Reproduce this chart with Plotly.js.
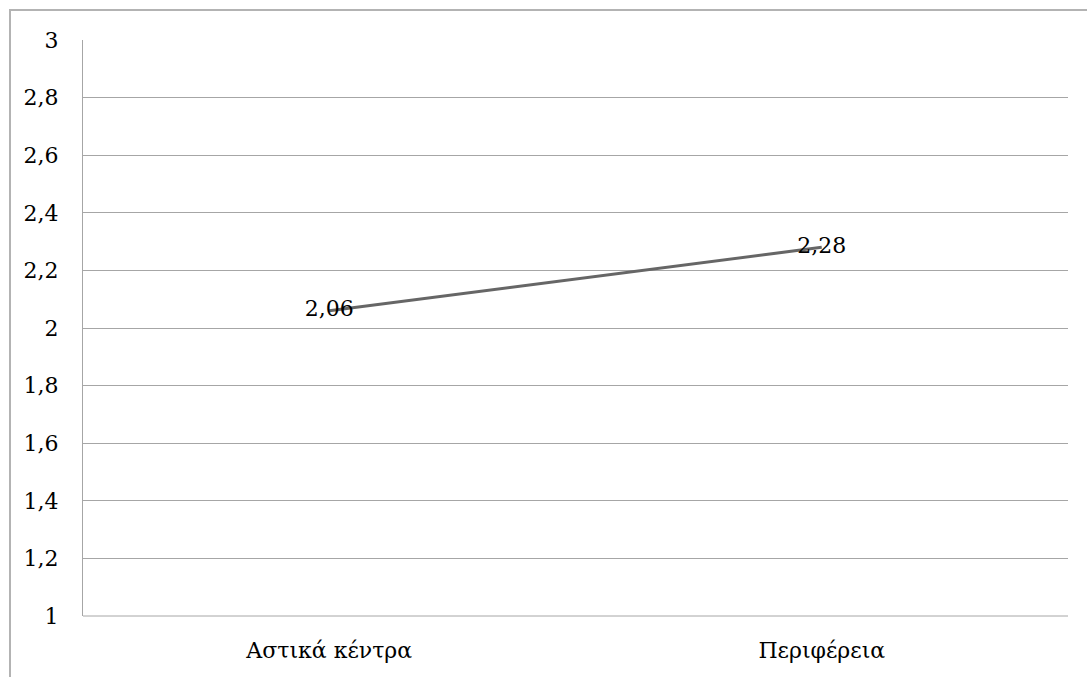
<!DOCTYPE html>
<html>
<head>
<meta charset="utf-8">
<script src="https://cdn.plot.ly/plotly-3.0.1.min.js"></script>
<style>
  html, body { margin: 0; padding: 0; background: #ffffff; }
  #chart { width: 1087px; height: 677px; }
</style>
</head>
<body>
<div id="chart"></div>
<script>
const categories = ["Αστικά κέντρα", "Περιφέρεια"];
const values = [2.06, 2.28];
const yTicks = [1, 1.2, 1.4, 1.6, 1.8, 2, 2.2, 2.4, 2.6, 2.8, 3];

const labels = values.map(v => v.toFixed(2).replace('.', ','));
const font = "DejaVu Serif, serif";

const trace = {
  x: categories,
  y: values,
  type: 'scatter',
  mode: 'lines+text',
  line: { color: '#666666', width: 3 },
  text: labels,
  textposition: 'middle center',
  textfont: { family: font, size: 22, color: '#000000' },
  hoverinfo: 'none',
  cliponaxis: false
};

// plot area in pixels: left 83, right 1068, top 40, bottom 616
const W = 1087, H = 677, L = 83, R = 1068, T = 40, B = 616;
const px = x => (x - L) / (R - L);
const py = y => (B - y) / (B - T);

const layout = {
  width: W, height: H,
  margin: { l: L, r: W - R, t: T, b: H - B, pad: 0 },
  paper_bgcolor: '#ffffff',
  plot_bgcolor: '#ffffff',
  separators: ',.',
  showlegend: false,
  font: { family: font, size: 22, color: '#000000' },
  xaxis: {
    type: 'category',
    range: [-0.5, 1.5],
    showgrid: false,
    zeroline: false,
    showline: false,
    ticks: '',
    ticklabelstandoff: 19,
    tickfont: { family: font, size: 22, color: '#000000' },
    fixedrange: true
  },
  yaxis: {
    range: [1, 3],
    tickvals: yTicks,
    ticktext: yTicks.map(v => String(v).replace('.', ',')),
    showgrid: true,
    gridcolor: '#a6a6a6',
    gridwidth: 1,
    zeroline: false,
    showline: true,
    linecolor: '#a6a6a6',
    linewidth: 1,
    ticks: '',
    ticklabelstandoff: 19,
    tickfont: { family: font, size: 22, color: '#000000' },
    fixedrange: true
  },
  shapes: [
    {
      type: 'line', xref: 'paper', yref: 'paper',
      x0: px(L), x1: px(R), y0: py(B), y1: py(B),
      line: { color: '#a6a6a6', width: 1 }, layer: 'below'
    },
    {
      type: 'rect', xref: 'paper', yref: 'paper',
      x0: px(10), x1: px(1100), y0: py(700), y1: py(10),
      line: { color: '#b3b3b3', width: 2 }, fillcolor: 'rgba(0,0,0,0)', layer: 'below'
    }
  ]
};

Plotly.newPlot('chart', [trace], layout, { displayModeBar: false, staticPlot: true });
</script>
</body>
</html>
